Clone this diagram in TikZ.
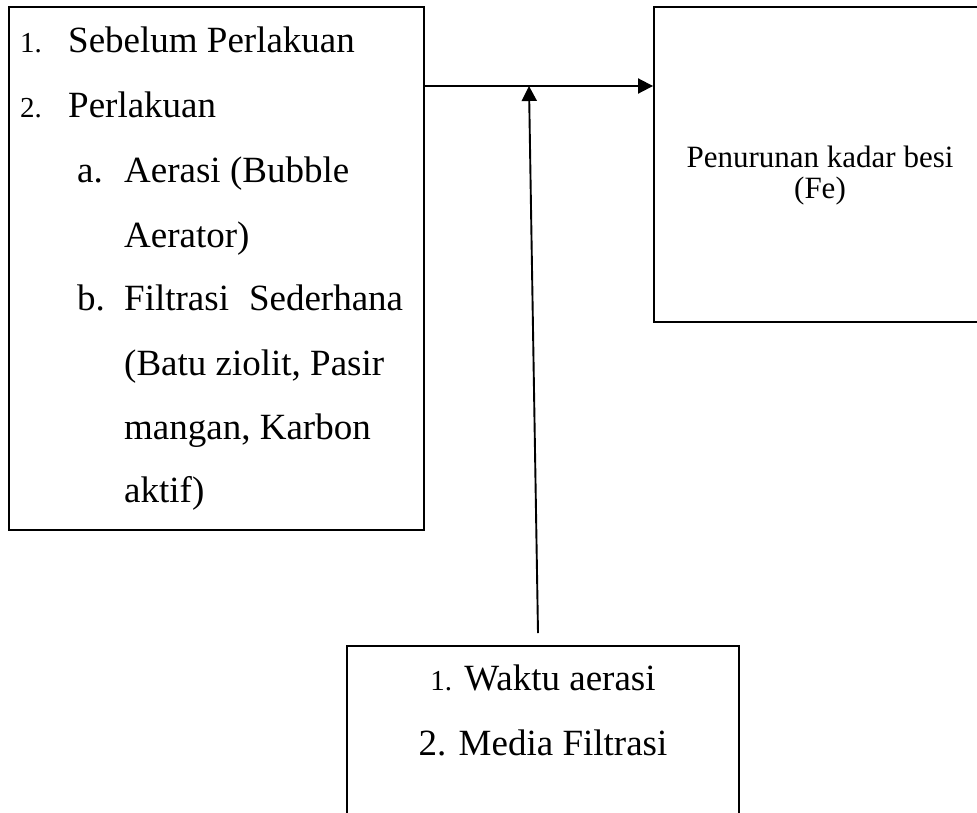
\documentclass[tikz,border=0pt]{standalone}
\usepackage{fontspec}
\setmainfont{Liberation Serif}
\usetikzlibrary{arrows.meta}
\begin{document}
\begin{tikzpicture}[x=1pt,y=-1pt,
  box/.style={draw, line width=1.9pt, inner sep=0pt},
  big/.style={font=\fontsize{37}{44}\selectfont, inner sep=0pt, anchor=base west},
  num/.style={font=\fontsize{29}{34}\selectfont, inner sep=0pt, anchor=base west},
  mid/.style={font=\fontsize{31}{37}\selectfont, inner sep=0pt, anchor=base},
  cbig/.style={font=\fontsize{37}{44}\selectfont, inner sep=0pt, anchor=base},
  arr/.style={line width=1.9pt, -{Triangle[length=15pt,width=15pt]}}]
\useasboundingbox (0,0) rectangle (977,812);
\clip (0,0) rectangle (977,812);
% boxes
\node[box, minimum width=415pt, minimum height=523pt] (left) at (216.5,268.5) {};
\node[box, minimum width=336pt, minimum height=315pt] (right) at (822,164.5) {};
\node[box, minimum width=392pt, minimum height=184pt] (bottom) at (543,738) {};
% connectors
\coordinate (j) at (529,86);
\coordinate (vs) at (538,633);
\draw[arr] (left.east |- j) -- (right.west |- j);
\draw[arr] (vs) -- (j);
% left text
\node[num] (n1) at (20,52) {1.};
\node[big] (l1) at (68,52) {Sebelum Perlakuan};
\node[num] (n2) at (20,117) {2.};
\node[big] (l2) at (68,117) {Perlakuan};
\node[big] (na) at (77,182) {a.};
\node[big] (l3) at (124,182) {Aerasi (Bubble};
\node[big] (l4) at (124,247) {Aerator)};
\node[big] (nb) at (77,310) {b.};
\node[big] (l5) at (124,310) {Filtrasi\hspace{20pt}Sederhana};
\node[big] (l6) at (124,375) {(Batu ziolit, Pasir};
\node[big] (l7) at (124,439) {mangan, Karbon};
\node[big] (l8) at (124,502) {aktif)};
% right text
\node[mid] (r1) at (820,167) {Penurunan kadar besi};
\node[mid] (r2) at (820,198) {(Fe)};
% bottom text
\node[cbig] (b1) at (543,690) {{\fontsize{29}{34}\selectfont 1.} Waktu aerasi};
\node[cbig] (b2) at (543,755) {2. Media Filtrasi};
\end{tikzpicture}
\end{document}
